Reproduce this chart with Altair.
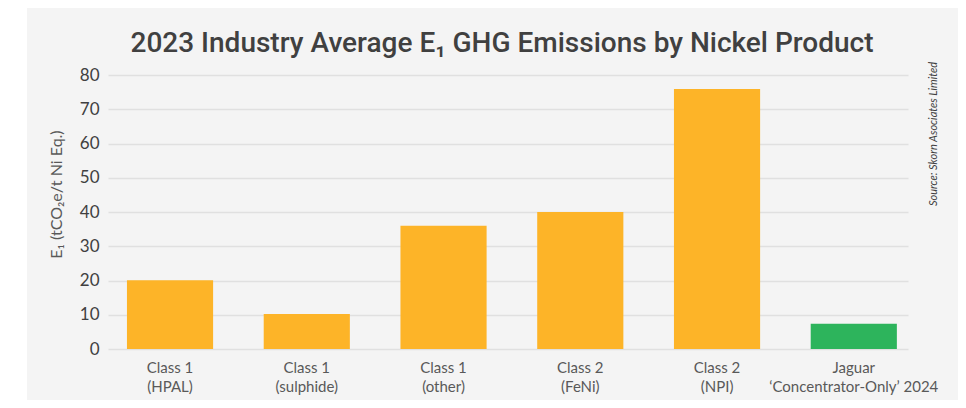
import altair as alt
import pandas as pd

categories = ["Class 1\n(HPAL)", "Class 1\n(sulphide)", "Class 1\n(other)",
              "Class 2\n(FeNi)", "Class 2\n(NPI)", "Jaguar\n‘Concentrator-Only’ 2024"]
values = [20.1, 10.2, 36.0, 40.0, 75.9, 7.4]
colors = ["#FDB428", "#FDB428", "#FDB428", "#FDB428", "#FDB428", "#2DB45C"]
y_ticks = [0, 10, 20, 30, 40, 50, 60, 70, 80]
title_text = "2023 Industry Average E₁ GHG Emissions by Nickel Product"
source_text = "Source: Skorn Asociates Limited"

df = pd.DataFrame({"cat": categories, "val": values, "color": colors})

strip = alt.Chart(pd.DataFrame({"a": [0]})).mark_rect(color="white").encode(
    x=alt.value(-100), x2=alt.value(-81), y=alt.value(-67), y2=alt.value(330)
)

bars = alt.Chart(df).mark_bar().encode(
    x=alt.X("cat:N", sort=categories,
            scale=alt.Scale(paddingInner=0.37, paddingOuter=0.11, align=0.63),
            axis=alt.Axis(title=None, labelAngle=0, labelExpr="split(datum.label, '\\n')",
                          labelFont="Lato", labelFontSize=15, labelColor="#595959",
                          labelPadding=11, labelLineHeight=19, domain=False, ticks=False,
                          grid=False, labelBaseline="top")),
    y=alt.Y("val:Q", scale=alt.Scale(domain=[0, 80], nice=False),
            axis=alt.Axis(values=y_ticks, title="E₁ (tCO₂e/t Ni Eq.)",
                          titleFont="Lato", titleFontSize=16, titleFontWeight="normal",
                          titleColor="#595959", titleX=-44, titleY=119,
                          labelFont="Lato", labelFontSize=17, labelColor="#404040",
                          labelPadding=9, domain=False, ticks=False,
                          gridColor="#E0E0E0", gridWidth=1.5)),
    color=alt.Color("color:N", scale=None),
)

src = alt.Chart(pd.DataFrame({"t": [source_text]})).mark_text(
    angle=270, font="Lato", fontStyle="italic", fontSize=11, color="#404040",
    align="center", baseline="middle"
).encode(x=alt.value(826), y=alt.value(59), text="t:N")

ttl = alt.Chart(pd.DataFrame({"t": [title_text]})).mark_text(
    font="Roboto", fontSize=28, fontWeight=500, color="#404040",
    align="center", baseline="alphabetic"
).encode(x=alt.value(394), y=alt.value(-23), text="t:N")

chart = alt.layer(strip, bars, src, ttl).properties(
    width=800, height=274,
    autosize=alt.AutoSizeParams(type="none"),
    padding={"left": 100, "top": 67, "right": 50, "bottom": 51},
    background="#F4F4F4",
).configure_view(stroke=None)

chart.save("out.html", embed_options={"renderer": "svg", "actions": False})
